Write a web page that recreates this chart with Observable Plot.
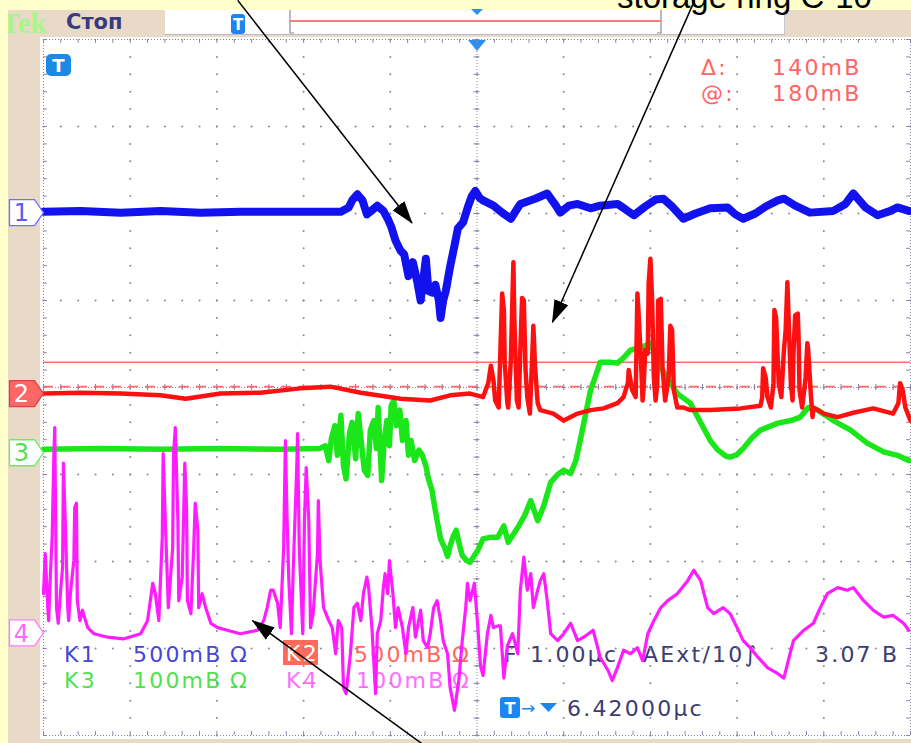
<!DOCTYPE html>
<html><head><meta charset="utf-8">
<script src="https://cdn.jsdelivr.net/npm/d3@7"></script>
<script src="https://cdn.jsdelivr.net/npm/@observablehq/plot@0.6"></script>
<style>
html,body{margin:0;padding:0;background:#FFFFCC;overflow:hidden;}
#root{position:relative;width:911px;height:743px;overflow:hidden;background:#FFFFCC;}
.abs{position:absolute;}
.ro{font-family:"DejaVu Sans",sans-serif;font-size:22px;letter-spacing:2.2px;}
</style></head><body>
<div id="root">
  <div class="abs" style="left:8px;top:10px;width:903px;height:733px;background:#E9D9C7"></div>
  <div class="abs" style="left:40px;top:37px;width:871px;height:702px;background:#FFFFFF"></div>
  <div class="abs" style="left:165px;top:10px;width:619px;height:24px;background:#FFFFFF;border-bottom:1px solid #B8B8C8;border-right:1px solid #C8C8D0"></div>
  <svg id="chrome" class="abs" width="911" height="743" style="left:0;top:0">
    <defs><clipPath id="tekclip"><rect x="8" y="10" width="60" height="27"/></clipPath></defs>
    <text x="1" y="33" clip-path="url(#tekclip)" font-family="Liberation Serif" font-weight="bold" font-size="29" fill="#A8F58A">Tek</text>
    <text x="66" y="29" font-family="DejaVu Sans" font-weight="bold" font-size="21" fill="#39397F">Стоп</text>
    <rect x="231" y="14" width="14" height="20" rx="3" fill="#1C86EE"/>
    <text x="238" y="30" text-anchor="middle" font-family="DejaVu Sans" font-weight="bold" font-size="15" fill="#fff">T</text>
    <path d="M290,10V33H294" fill="none" stroke="#8888A0" stroke-width="1.2"/>
    <path d="M661,10V33H657" fill="none" stroke="#8888A0" stroke-width="1.2"/>
    <line x1="290" y1="21" x2="661" y2="21" stroke="#FF7B7B" stroke-width="2"/>
    <polygon points="471,9 483,9 477,15" fill="#2A8FEF"/>
    <rect x="46" y="54" width="25" height="22" rx="5" fill="#1E88E5"/>
    <text x="58.5" y="72" text-anchor="middle" font-family="DejaVu Sans" font-weight="bold" font-size="18" fill="#fff">T</text>
    <polygon points="468,40 486,40 477,51" fill="#2A8FEF"/>
    <g class="ro" fill="#FF6464">
      <text x="701" y="75">Δ:</text><text x="772" y="75">140mB</text>
      <text x="701" y="101">@:</text><text x="772" y="101">180mB</text>
    </g>
    <g class="ro">
      <text x="64" y="662" fill="#4646D6">K1</text>
      <text x="133" y="662" fill="#4646D6">500mB</text>
      <text x="230" y="662" fill="#4646D6">Ω</text>
      <rect x="283" y="640" width="35" height="25" fill="#FF6B5B"/>
      <text x="286" y="661" fill="#FFFFFF">K2</text>
      <text x="354" y="662" fill="#FF6A5A">500mB</text>
      <text x="452" y="662" fill="#FF6A5A">Ω</text>
      <text x="504" y="662" fill="#3C3C70">F</text>
      <text x="530" y="662" fill="#3C3C70">1.00µc</text>
      <text x="643" y="662" fill="#3C3C70">AExt/10∫</text>
      <text x="815" y="662" fill="#3C3C70">3.07 B</text>
      <text x="64" y="688" fill="#50E050">K3</text>
      <text x="133" y="688" fill="#50E050">100mB</text>
      <text x="230" y="688" fill="#50E050">Ω</text>
      <text x="286" y="688" fill="#FF6EFF">K4</text>
      <text x="356" y="688" fill="#FF6EFF">100mB</text>
      <text x="452" y="688" fill="#FF6EFF">Ω</text>
      <text x="567" y="716" fill="#3C3C70">6.42000µc</text>
    </g>
    <rect x="500" y="697" width="20" height="21" rx="3" fill="#1C86EE"/>
    <text x="510" y="714" text-anchor="middle" font-family="DejaVu Sans" font-weight="bold" font-size="16" fill="#fff">T</text>
    <text x="521" y="714" font-family="DejaVu Sans" font-size="17" fill="#1C86EE">→</text>
    <polygon points="540,703 557,703 548.5,712" fill="#1C86EE"/>
  </svg>
  <div id="plot" class="abs" style="left:0;top:0"></div>
  <svg id="over" class="abs" width="911" height="743" style="left:0;top:0;pointer-events:none">
    <text x="617" y="8" font-family="Liberation Sans" font-size="33" fill="#000">storage ring C-10</text>
  </svg>
</div>
<script>
// ---- Data (time in µs across the 10 divisions, vertical in graticule divisions) ----
const channelNames = ["1", "2", "3", "4"];
const channelOffsets = [2.01, -0.07, -0.75, -2.82];
const channelColors = ["#1212EE", "#FF1010", "#1AE61A", "#FF1CFF"];
const tagFills = ["#FFFFFF", "#FF6666", "#FFFFFF", "#FFFFFF"];
const tagStrokes = ["#6F6FFF", "#D04848", "#66EE66", "#FF7AFF"];
const tagTextColors = ["#5A5AF0", "#FFFFFF", "#4FE04F", "#FF6AFF"];

const ch2VoltsPerDivMV = 500;
const cursorAtMV = 180;
const cursorDeltaMV = 140;

const ch1 = [[0,2.02],[0.43,2.03],[0.89,2.01],[1.35,2.03],[1.81,2.01],[2.27,2.02],[2.73,2.02],[3.19,2.02],[3.43,2.02],[3.52,2.07],[3.56,2.15],[3.62,2.22],[3.68,2.15],[3.73,1.99],[3.78,2.03],[3.85,2.09],[3.92,2.03],[3.97,1.94],[4.01,1.85],[4.06,1.69],[4.12,1.57],[4.16,1.53],[4.21,1.28],[4.26,1.44],[4.31,1.22],[4.35,1.00],[4.38,1.23],[4.41,1.48],[4.44,1.11],[4.49,1.09],[4.52,1.18],[4.56,1.00],[4.58,0.80],[4.61,1.00],[4.64,1.11],[4.69,1.39],[4.74,1.63],[4.78,1.83],[4.84,1.90],[4.90,2.09],[4.94,2.20],[4.98,2.26],[5.03,2.18],[5.07,2.15],[5.19,2.09],[5.29,2.01],[5.39,1.94],[5.50,2.11],[5.67,2.17],[5.81,2.23],[5.91,2.09],[5.96,2.01],[6.06,2.09],[6.16,2.11],[6.31,2.06],[6.42,2.09],[6.62,2.11],[6.71,2.05],[6.81,1.98],[6.94,2.08],[7.06,2.16],[7.15,2.17],[7.25,2.08],[7.38,1.94],[7.52,2.00],[7.69,2.06],[7.89,2.07],[7.98,1.99],[8.07,1.94],[8.21,2.00],[8.33,2.08],[8.47,2.15],[8.54,2.17],[8.67,2.09],[8.84,2.01],[9.11,2.03],[9.25,2.11],[9.34,2.23],[9.48,2.07],[9.62,1.98],[9.77,2.03],[9.85,2.07],[9.98,2.03]];

const ch2 = [[0,-0.07],[0.43,-0.06],[0.89,-0.07],[1.35,-0.09],[1.64,-0.13],[2.04,-0.07],[2.50,-0.06],[2.96,-0.01],[3.31,0.01],[3.66,-0.06],[4.12,-0.13],[4.46,-0.15],[4.69,-0.09],[4.92,-0.07],[5.07,-0.11],[5.13,0.05],[5.16,0.25],[5.19,0.08],[5.21,-0.15],[5.25,-0.23],[5.27,0.43],[5.29,1.08],[5.31,0.89],[5.32,0.28],[5.35,-0.18],[5.36,-0.23],[5.39,0.31],[5.41,1.08],[5.42,1.44],[5.43,0.80],[5.46,-0.15],[5.48,-0.23],[5.50,0.43],[5.52,1.03],[5.54,1.00],[5.56,0.20],[5.58,-0.11],[5.61,-0.30],[5.64,0.43],[5.65,0.71],[5.67,0.23],[5.70,-0.18],[5.73,-0.26],[5.88,-0.30],[6.00,-0.38],[6.16,-0.30],[6.31,-0.26],[6.46,-0.24],[6.62,-0.18],[6.69,-0.11],[6.74,0.05],[6.75,0.20],[6.79,-0.03],[6.83,-0.11],[6.85,1.08],[6.86,0.92],[6.89,0.34],[6.91,-0.15],[6.92,-0.03],[6.94,0.43],[6.97,0.39],[6.98,1.20],[7.00,1.48],[7.02,1.00],[7.04,0.11],[7.06,-0.15],[7.08,0.05],[7.09,1.00],[7.12,1.02],[7.14,0.23],[7.17,-0.15],[7.21,0.11],[7.23,0.71],[7.25,0.66],[7.27,-0.03],[7.31,-0.23],[7.38,-0.23],[7.46,-0.26],[7.69,-0.26],[8.04,-0.24],[8.27,-0.21],[8.29,-0.11],[8.30,0.22],[8.33,0.11],[8.35,-0.11],[8.39,-0.23],[8.42,0.05],[8.43,0.89],[8.45,0.80],[8.47,0.31],[8.48,0.05],[8.51,-0.11],[8.54,0.43],[8.56,0.66],[8.58,1.21],[8.59,0.92],[8.62,0.05],[8.64,-0.15],[8.65,0.39],[8.67,0.83],[8.70,0.85],[8.71,0.54],[8.72,-0.03],[8.75,-0.23],[8.79,0.11],[8.81,0.51],[8.82,0.43],[8.85,-0.07],[8.87,-0.34],[8.88,-0.23],[9.00,-0.30],[9.16,-0.34],[9.34,-0.29],[9.57,-0.24],[9.80,-0.30],[9.86,-0.18],[9.88,0.05],[9.91,-0.03],[9.94,-0.23],[10.00,-0.38]];

const ch3 = [[0,-0.71],[0.66,-0.70],[1.35,-0.71],[2.04,-0.70],[2.73,-0.71],[3.19,-0.70],[3.25,-0.67],[3.29,-0.84],[3.32,-0.59],[3.36,-0.44],[3.39,-0.78],[3.43,-0.32],[3.46,-0.90],[3.49,-1.05],[3.53,-0.52],[3.56,-0.40],[3.60,-0.82],[3.63,-0.30],[3.67,-0.67],[3.70,-0.95],[3.74,-1.01],[3.77,-0.49],[3.81,-0.38],[3.84,-0.70],[3.86,-0.23],[3.90,-1.07],[3.93,-0.61],[3.96,-0.38],[3.99,-0.67],[4.01,-0.21],[4.04,-0.15],[4.07,-0.44],[4.11,-0.26],[4.14,-0.61],[4.18,-0.38],[4.21,-0.78],[4.24,-0.61],[4.28,-0.84],[4.33,-0.72],[4.37,-0.78],[4.41,-0.90],[4.44,-1.05],[4.48,-1.18],[4.51,-1.36],[4.54,-1.53],[4.58,-1.74],[4.63,-1.85],[4.66,-1.94],[4.69,-1.82],[4.73,-1.70],[4.76,-1.64],[4.80,-1.82],[4.83,-1.93],[4.88,-1.99],[4.92,-2.01],[4.97,-1.93],[5.01,-1.87],[5.07,-1.74],[5.16,-1.72],[5.24,-1.72],[5.31,-1.59],[5.36,-1.78],[5.47,-1.61],[5.55,-1.47],[5.62,-1.30],[5.70,-1.53],[5.77,-1.36],[5.85,-1.09],[5.93,-1.00],[6.00,-0.95],[6.08,-0.99],[6.14,-0.84],[6.19,-0.61],[6.25,-0.32],[6.31,-0.03],[6.37,0.14],[6.42,0.29],[6.54,0.29],[6.62,0.28],[6.69,0.34],[6.77,0.43],[6.89,0.46],[7.00,0.51],[7.06,0.37],[7.12,0.23],[7.21,0.08],[7.31,-0.07],[7.46,-0.18],[7.61,-0.46],[7.69,-0.61],[7.77,-0.71],[7.87,-0.79],[7.92,-0.80],[8.00,-0.77],[8.07,-0.70],[8.18,-0.57],[8.27,-0.49],[8.47,-0.41],[8.62,-0.38],[8.73,-0.34],[8.82,-0.23],[8.93,-0.26],[9.11,-0.38],[9.31,-0.49],[9.50,-0.64],[9.69,-0.74],[9.85,-0.78],[9.98,-0.84]];

const ch4 = [[0.00,-2.37],[0.02,-1.91],[0.05,-2.53],[0.06,-2.68],[0.08,-2.14],[0.10,-1.72],[0.12,-0.76],[0.13,-0.46],[0.14,-1.53],[0.15,-2.53],[0.17,-2.71],[0.20,-2.30],[0.22,-2.07],[0.23,-0.87],[0.25,-1.53],[0.28,-2.53],[0.29,-2.68],[0.31,-2.37],[0.35,-1.99],[0.36,-1.38],[0.38,-1.33],[0.39,-2.45],[0.42,-2.68],[0.45,-2.56],[0.46,-2.60],[0.51,-2.76],[0.58,-2.83],[0.74,-2.87],[0.92,-2.89],[1.12,-2.83],[1.20,-2.68],[1.26,-2.25],[1.29,-2.37],[1.33,-2.68],[1.37,-1.72],[1.38,-0.76],[1.41,-1.68],[1.44,-2.53],[1.49,-1.84],[1.50,-0.76],[1.52,-0.46],[1.55,-1.53],[1.56,-2.45],[1.60,-2.18],[1.63,-0.87],[1.65,-1.38],[1.66,-2.45],[1.70,-2.60],[1.73,-1.91],[1.75,-1.33],[1.78,-1.64],[1.79,-2.53],[1.83,-2.37],[1.87,-2.53],[1.93,-2.71],[2.01,-2.76],[2.12,-2.79],[2.27,-2.83],[2.47,-2.79],[2.54,-2.68],[2.58,-2.53],[2.62,-2.33],[2.65,-2.33],[2.70,-2.48],[2.73,-2.76],[2.77,-1.84],[2.79,-0.61],[2.81,-1.53],[2.83,-2.22],[2.86,-2.83],[2.88,-2.10],[2.92,-0.95],[2.93,-0.53],[2.95,-1.84],[2.99,-2.83],[3.01,-1.53],[3.03,-0.92],[3.06,-1.53],[3.08,-2.76],[3.11,-2.60],[3.16,-1.91],[3.17,-1.30],[3.19,-1.99],[3.23,-2.53],[3.29,-2.68],[3.33,-2.76],[3.37,-3.06],[3.40,-2.68],[3.44,-2.76],[3.46,-3.45],[3.49,-3.52],[3.54,-3.06],[3.58,-2.53],[3.62,-2.48],[3.66,-2.68],[3.69,-2.37],[3.73,-2.18],[3.75,-2.30],[3.79,-2.79],[3.83,-3.52],[3.85,-2.83],[3.89,-2.68],[3.92,-2.30],[3.94,-2.14],[3.97,-2.37],[3.99,-1.99],[4.03,-2.37],[4.06,-2.76],[4.09,-2.53],[4.14,-2.76],[4.18,-3.06],[4.21,-2.76],[4.26,-2.53],[4.29,-2.87],[4.35,-2.56],[4.38,-2.91],[4.43,-2.99],[4.46,-2.83],[4.50,-2.53],[4.54,-2.45],[4.58,-2.68],[4.61,-2.91],[4.66,-3.06],[4.69,-3.45],[4.74,-3.71],[4.79,-3.37],[4.83,-2.91],[4.87,-2.53],[4.89,-2.25],[4.92,-2.45],[4.97,-2.25],[5.01,-2.76],[5.04,-3.20],[5.07,-3.31],[5.12,-2.83],[5.16,-2.62],[5.19,-2.76],[5.24,-2.74],[5.27,-2.74],[5.31,-3.34],[5.35,-2.97],[5.41,-2.83],[5.47,-3.06],[5.50,-2.33],[5.54,-1.95],[5.58,-2.33],[5.62,-2.14],[5.65,-2.53],[5.70,-2.33],[5.73,-2.22],[5.77,-2.14],[5.81,-2.45],[5.85,-2.83],[5.93,-2.91],[6.00,-2.83],[6.08,-2.71],[6.16,-2.91],[6.23,-2.87],[6.34,-2.79],[6.42,-3.10],[6.51,-3.25],[6.56,-3.37],[6.62,-3.22],[6.69,-3.02],[6.77,-3.06],[6.85,-2.99],[6.91,-3.14],[6.97,-2.83],[7.04,-2.68],[7.12,-2.53],[7.20,-2.45],[7.31,-2.37],[7.43,-2.22],[7.50,-2.10],[7.58,-2.22],[7.66,-2.53],[7.73,-2.60],[7.84,-2.53],[7.92,-2.60],[8.00,-2.76],[8.07,-2.91],[8.15,-2.99],[8.24,-3.10],[8.35,-3.22],[8.47,-3.29],[8.54,-3.34],[8.59,-3.14],[8.65,-2.91],[8.77,-2.79],[8.88,-2.71],[8.96,-2.53],[9.04,-2.37],[9.16,-2.30],[9.27,-2.33],[9.34,-2.30],[9.46,-2.45],[9.57,-2.56],[9.69,-2.64],[9.80,-2.62],[9.92,-2.71],[9.98,-2.79]];

const arrowFrom = [[2.24, 4.45], [7.51, 4.45], [4.36, -4.09]];
const arrowTo = [[4.25, 1.89], [5.87, 0.75], [2.41, -2.68]];

// ---- Graticule helpers ----
const divX = d3.range(0, 11);
const divY = d3.range(-4, 5);
const minorX = d3.range(0, 51).map(i => i / 5);
const minorY = d3.range(0, 41).map(i => -4 + i / 5);
const gridDots = [];
for (const x of divX.slice(1, -1)) for (const y of minorY) gridDots.push([x, y]);
for (const y of divY.slice(1, -1)) for (const x of minorX) gridDots.push([x, y]);

const cursorLevel = channelOffsets[1] + cursorAtMV / ch2VoltsPerDivMV;
const cursorLevel2 = cursorLevel - cursorDeltaMV / ch2VoltsPerDivMV;

const tags = channelNames.map((name, i) => ({
  name, off: channelOffsets[i], fill: tagFills[i], stroke: tagStrokes[i], text: tagTextColors[i]
}));
const tagSymbol = {
  draw(ctx, size) {
    const k = Math.sqrt(size / Math.PI) / 13;
    ctx.moveTo(-17 * k, -13 * k);
    ctx.lineTo(8 * k, -13 * k);
    ctx.lineTo(17 * k, 0);
    ctx.lineTo(8 * k, 13 * k);
    ctx.lineTo(-17 * k, 13 * k);
    ctx.closePath();
  }
};
const arrows = arrowFrom.map((f, i) => ({x1: f[0], y1: f[1], x2: arrowTo[i][0], y2: arrowTo[i][1]}));
const gridColor = "#8585A8";
const traceOpts = {x: d => d[0], y: d => d[1], strokeLinejoin: "round", strokeLinecap: "round"};

const chart = Plot.plot({
  width: 911, height: 743,
  marginTop: 39, marginLeft: 43, marginRight: 1, marginBottom: 8,
  x: {domain: [0, 10], axis: null},
  y: {domain: [-4, 4], axis: null},
  color: {type: "identity"},
  style: {background: "transparent", overflow: "visible"},
  marks: [
    Plot.dot(gridDots, {x: d => d[0], y: d => d[1], r: 1, fill: gridColor, stroke: null}),
    Plot.ruleX([0, 5, 10], {stroke: gridColor, strokeWidth: 1, strokeDasharray: "1,2"}),
    Plot.ruleY([-4, 0, 4], {stroke: gridColor, strokeWidth: 1, strokeDasharray: "1,2"}),
    Plot.ruleY(minorY, {y: d => d, x1: () => 4.965, x2: () => 5.035, stroke: gridColor}),
    Plot.ruleX(minorX, {x: d => d, y1: () => -0.035, y2: () => 0.035, stroke: gridColor}),
    Plot.ruleX(minorX, {x: d => d, y1: () => 4, y2: () => 3.955, stroke: gridColor}),
    Plot.ruleX(minorX, {x: d => d, y1: () => -4, y2: () => -3.955, stroke: gridColor}),
    Plot.ruleY(minorY, {y: d => d, x1: () => 0, x2: () => 0.045, stroke: gridColor}),
    Plot.ruleY(minorY, {y: d => d, x1: () => 10, x2: () => 9.955, stroke: gridColor}),
    Plot.ruleY([cursorLevel], {stroke: "#FF6B6B", strokeWidth: 1.6}),
    Plot.ruleY([cursorLevel2], {stroke: "#FF6B6B", strokeWidth: 1.6, strokeDasharray: "10,7"}),
    Plot.line(ch1, {...traceOpts, stroke: channelColors[0], strokeWidth: 8}),
    Plot.line(ch3, {...traceOpts, stroke: channelColors[2], strokeWidth: 5.5}),
    Plot.line(ch2, {...traceOpts, stroke: channelColors[1], strokeWidth: 4.5}),
    Plot.line(ch4, {...traceOpts, stroke: channelColors[3], strokeWidth: 3.2}),
    Plot.dot(tags, {x: () => 0, y: d => d.off, symbol: tagSymbol, r: 13, dx: -17, fill: d => d.fill, stroke: d => d.stroke, strokeWidth: 1.3}),
    Plot.text(tags, {x: () => 0, y: d => d.off, text: d => d.name, dx: -22, dy: 1, fill: d => d.text, fontSize: 24, fontFamily: "DejaVu Sans"}),
    Plot.link(arrows, {x1: "x1", y1: "y1", x2: "x2", y2: "y2", stroke: "#000", strokeWidth: 1.5, markerEnd: "arrow"})
  ]
});
chart.querySelectorAll("marker").forEach(m => {
  m.setAttribute("viewBox", "-22 -8 24 16");
  m.setAttribute("markerWidth", "24");
  m.setAttribute("markerHeight", "16");
  m.setAttribute("markerUnits", "userSpaceOnUse");
  m.setAttribute("refX", "0");
  m.setAttribute("refY", "0");
  m.setAttribute("fill", "#000");
  m.setAttribute("stroke", "none");
  m.querySelectorAll("path").forEach(p => p.setAttribute("d", "M-22,-7.5L1,0L-22,7.5Z"));
});
document.getElementById("plot").appendChild(chart);
</script>
</body></html>
